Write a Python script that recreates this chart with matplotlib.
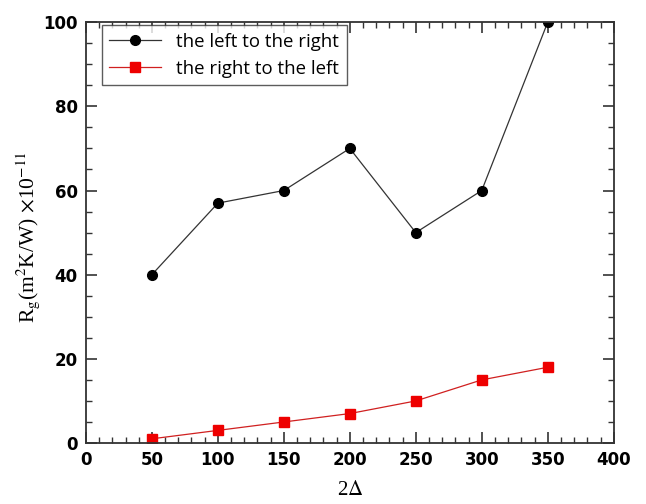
import numpy as np
import matplotlib
matplotlib.use('Agg')
import matplotlib.pyplot as plt
from matplotlib.ticker import MultipleLocator

x = [50, 100, 150, 200, 250, 300, 350]
left_to_right = [40, 57, 60, 70, 50, 60, 100]
right_to_left = [1, 3, 5, 7, 10, 15, 18]

plt.rcParams['mathtext.fontset'] = 'stix'

fig = plt.figure(figsize=(6.46, 5.04), dpi=100)
ax = fig.add_axes([0.133, 0.121, 0.817, 0.835])

ax.plot(x, left_to_right, color='#333333', lw=0.9, marker='o', ms=7,
        mfc='black', mec='black', label='the left to the right')
ax.plot(x, right_to_left, color='#d02020', lw=0.9, marker='s', ms=7,
        mfc='#ee0000', mec='#ee0000', label='the right to the left')

ax.set_xlim(0, 400)
ax.set_ylim(0, 100)
ax.xaxis.set_major_locator(MultipleLocator(50))
ax.xaxis.set_minor_locator(MultipleLocator(10))
ax.yaxis.set_major_locator(MultipleLocator(20))
ax.yaxis.set_minor_locator(MultipleLocator(5))
ax.tick_params(which='both', direction='in', top=True, right=True, color='#333333')
ax.tick_params(which='major', length=8, width=1.2, labelsize=12, pad=6)
ax.tick_params(which='minor', length=4, width=1.0)
for lab in ax.get_xticklabels() + ax.get_yticklabels():
    lab.set_fontweight('bold')
for sp in ax.spines.values():
    sp.set_linewidth(1.3)
    sp.set_color('#333333')

ax.set_xlabel(r'2$\Delta$', fontsize=15, family='Liberation Serif', va='center')
ax.xaxis.set_label_coords(0.5, -0.114)
ax.set_ylabel(r'R$_\mathrm{g}$(m$^2$K/W) $\times$10$^{-11}$', fontsize=15.5,
              family='Liberation Serif', va='center')
ax.yaxis.set_label_coords(-0.11, 0.49)

leg = ax.legend(loc='upper left', bbox_to_anchor=(0.030, 0.993), borderaxespad=0,
                frameon=True, fancybox=False, edgecolor='#333333', handlelength=2.8,
                prop={'family': 'Open Sans', 'size': 13.4})
leg.get_frame().set_linewidth(1.0)

fig.savefig('out.png', dpi=100)
